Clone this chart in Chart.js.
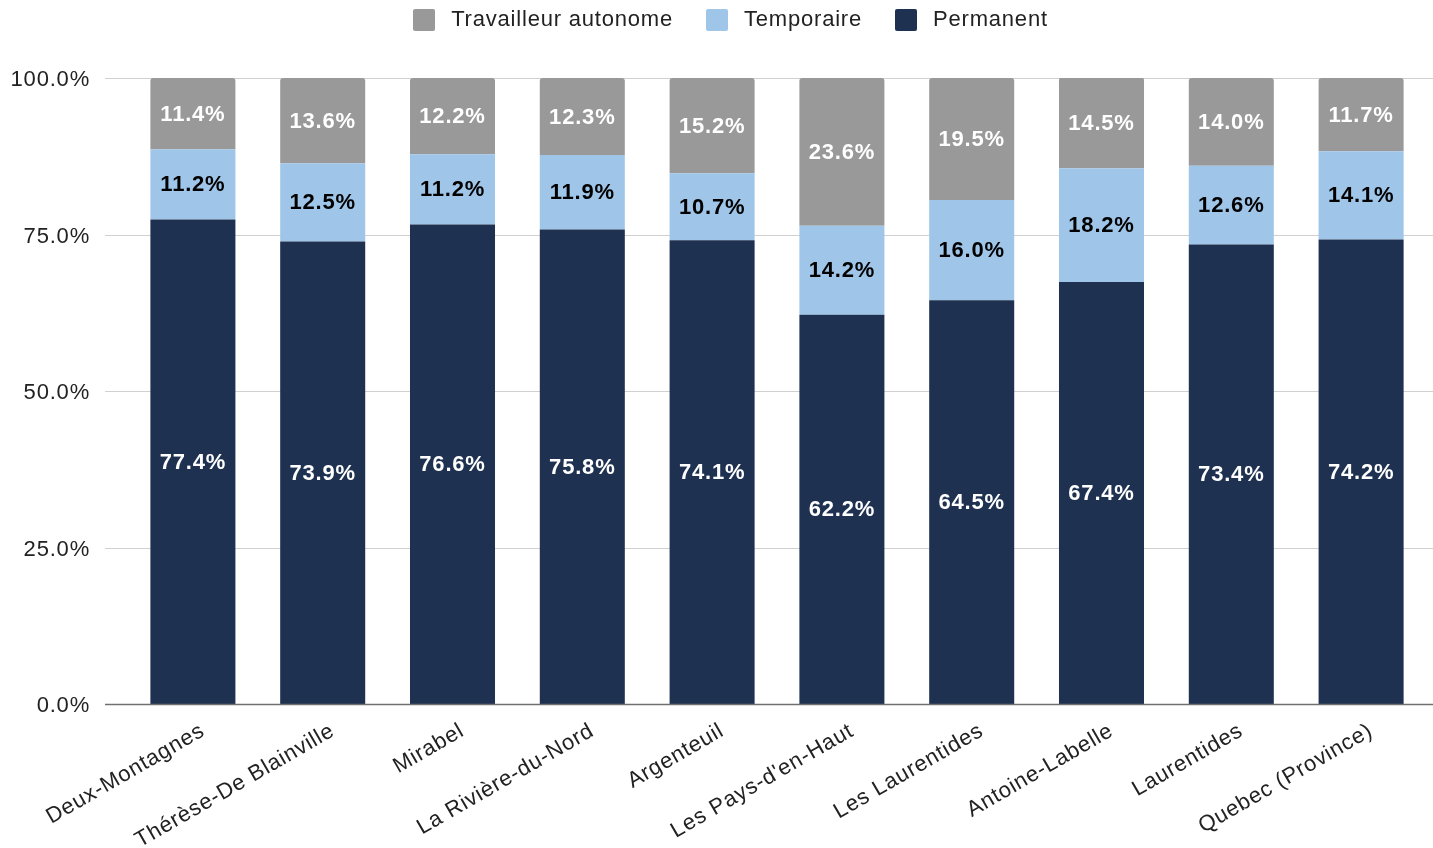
<!DOCTYPE html>
<html>
<head>
<meta charset="utf-8">
<script src="https://cdn.jsdelivr.net/npm/chart.js@4.4.1/dist/chart.umd.min.js"></script>
<style>
  html, body { margin: 0; padding: 0; background: #ffffff; }
  #wrap { width: 1433px; height: 848px; position: relative; }
</style>
</head>
<body>
<div id="wrap"><canvas id="c" width="1433" height="848"></canvas></div>
<script>
const categories = ["Deux-Montagnes", "Thérèse-De Blainville", "Mirabel", "La Rivière-du-Nord", "Argenteuil", "Les Pays-d'en-Haut", "Les Laurentides", "Antoine-Labelle", "Laurentides", "Quebec (Province)"];
const permanent = [77.4, 73.9, 76.6, 75.8, 74.1, 62.2, 64.5, 67.4, 73.4, 74.2];
const temporaire = [11.2, 12.5, 11.2, 11.9, 10.7, 14.2, 16.0, 18.2, 12.6, 14.1];
const travailleur = [11.4, 13.6, 12.2, 12.3, 15.2, 23.6, 19.5, 14.5, 14.0, 11.7];
const yTicks = [0, 25, 50, 75, 100];

const FONT = "'Liberation Sans', Arial, sans-serif";
const SPACING = '0.8px';
const LEGEND_PAD = 28;

function swatch(color) {
  const c = document.createElement('canvas');
  c.width = 22; c.height = 22;
  const g = c.getContext('2d');
  g.fillStyle = color;
  g.beginPath();
  if (g.roundRect) g.roundRect(0, 0, 22, 22, 2); else g.rect(0, 0, 22, 22);
  g.fill();
  return c;
}

const spacingPlugin = {
  id: 'spacingPlugin',
  beforeUpdate(chart) { chart.ctx.letterSpacing = SPACING; },
  beforeLayout(chart) { chart.ctx.letterSpacing = SPACING; },
  beforeDraw(chart) { chart.ctx.letterSpacing = SPACING; },
  afterLayout(chart) {
    const lg = chart.legend;
    if (lg) {
      const h = lg.height;
      lg.top = 20 - 11 - LEGEND_PAD;
      lg.bottom = lg.top + h;
      lg.left += 15;
      lg.right += 15;
    }
  }
};

const gridPlugin = {
  id: 'gridPlugin',
  beforeDatasetsDraw(chart) {
    const ctx = chart.ctx;
    const y = chart.scales.y;
    ctx.save();
    yTicks.forEach(v => {
      if (v === 0) return;
      const py = Math.round(y.getPixelForValue(v)) + 0.5;
      ctx.beginPath();
      ctx.lineWidth = 1;
      ctx.strokeStyle = '#d0d0d0';
      ctx.moveTo(105, py);
      ctx.lineTo(chart.width, py);
      ctx.stroke();
    });
    ctx.restore();
  },
  afterDatasetsDraw(chart) {
    const ctx = chart.ctx;
    const y = chart.scales.y;
    ctx.save();
    const py = Math.round(y.getPixelForValue(0)) + 0.5;
    ctx.beginPath();
    ctx.lineWidth = 1.5;
    ctx.strokeStyle = '#707070';
    ctx.moveTo(105, py);
    ctx.lineTo(chart.width, py);
    ctx.stroke();
    ctx.restore();
  }
};

const labelPlugin = {
  id: 'labelPlugin',
  afterDatasetsDraw(chart) {
    const ctx = chart.ctx;
    ctx.save();
    ctx.letterSpacing = SPACING;
    ctx.font = "bold 22px " + FONT;
    ctx.textAlign = 'center';
    ctx.textBaseline = 'middle';
    chart.data.datasets.forEach((ds, di) => {
      const meta = chart.getDatasetMeta(di);
      meta.data.forEach((bar, i) => {
        const p = bar.getProps(['x', 'y', 'base'], true);
        ctx.fillStyle = ds.labelColor;
        ctx.fillText(ds.data[i].toFixed(1) + '%', p.x, (p.y + p.base) / 2 + 1);
      });
    });
    ctx.restore();
  }
};

const swatches = ['#1e3150', '#9fc5e8', '#999999'].map(swatch);

new Chart(document.getElementById('c'), {
  type: 'bar',
  data: {
    labels: categories,
    datasets: [
      { label: 'Permanent', data: permanent, backgroundColor: '#1e3150', labelColor: '#ffffff' },
      { label: 'Temporaire', data: temporaire, backgroundColor: '#9fc5e8', labelColor: '#000000' },
      { label: 'Travailleur autonome', data: travailleur, backgroundColor: '#999999', labelColor: '#ffffff',
        borderRadius: { topLeft: 3, topRight: 3, bottomLeft: 0, bottomRight: 0 }, borderSkipped: false }
    ]
  },
  options: {
    responsive: false,
    animation: false,
    devicePixelRatio: 1,
    layout: { padding: { top: 18, right: 7, bottom: 0, left: 0 } },
    datasets: { bar: { categoryPercentage: 1.0, barPercentage: 0.655 } },
    plugins: {
      legend: {
        position: 'top',
        reverse: true,
        labels: {
          font: { family: FONT, size: 22 },
          color: '#222222',
          boxWidth: 22,
          boxHeight: 22,
          usePointStyle: true,
          pointStyleWidth: 32,
          padding: LEGEND_PAD,
          generateLabels(chart) {
            const items = Chart.defaults.plugins.legend.labels.generateLabels(chart);
            items.forEach(it => { it.pointStyle = swatches[it.datasetIndex]; });
            return items;
          }
        }
      },
      tooltip: { enabled: false }
    },
    scales: {
      x: {
        stacked: true,
        grid: { display: false, drawTicks: false },
        border: { display: false },
        ticks: {
          font: { family: FONT, size: 22 },
          color: '#222222',
          minRotation: 30,
          maxRotation: 30,
          padding: 14,
          labelOffset: 10,
          autoSkip: false
        },
        afterFit(scale) { scale.height = 144; }
      },
      y: {
        stacked: true,
        min: 0,
        max: 100,
        afterBuildTicks(scale) { scale.ticks = yTicks.map(v => ({ value: v })); },
        grid: { display: false, drawTicks: false },
        border: { display: false },
        ticks: {
          font: { family: FONT, size: 22 },
          color: '#222222',
          padding: 38,
          labelOffset: 2,
          callback: v => v.toFixed(1) + '%'
        },
        afterFit(scale) { scale.width = 128; }
      }
    }
  },
  plugins: [spacingPlugin, gridPlugin, labelPlugin]
});
</script>
</body>
</html>
